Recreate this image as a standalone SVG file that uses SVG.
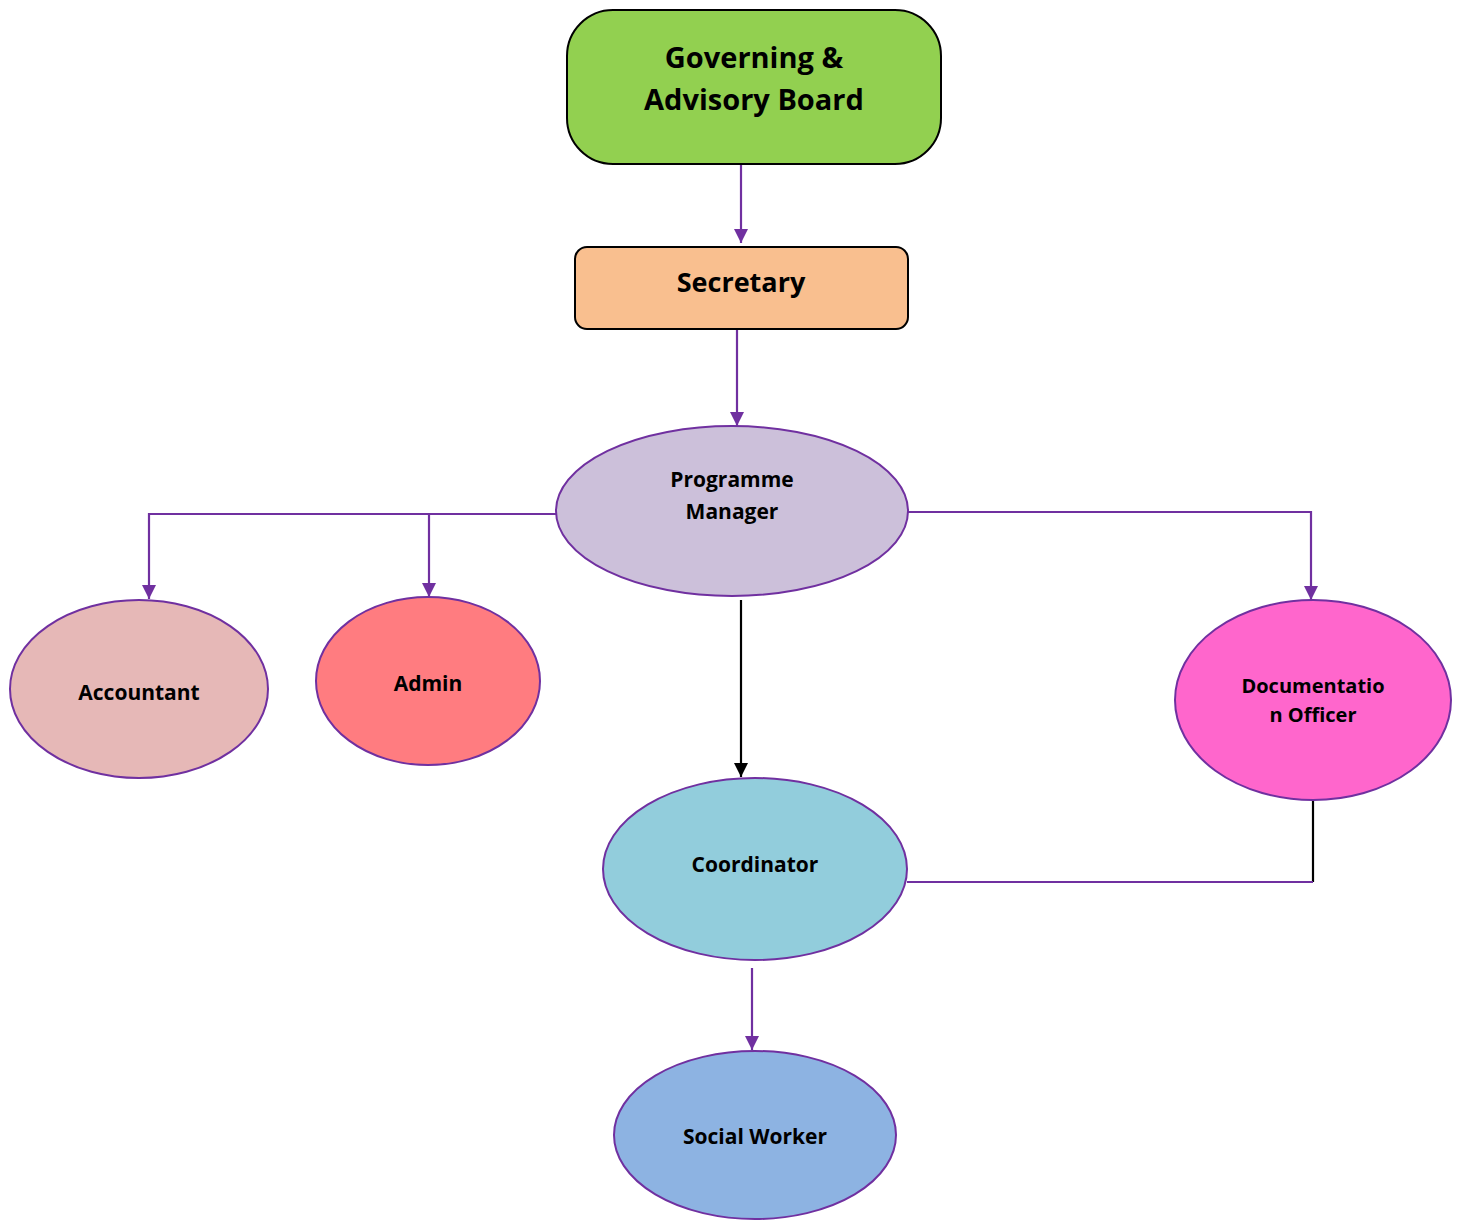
<svg xmlns="http://www.w3.org/2000/svg" width="1460" height="1220" viewBox="0 0 1460 1220">
<style>
text{font-family:"Open Sans","Noto Sans","Liberation Sans",sans-serif;font-weight:bold;fill:#000;text-anchor:middle}
.oval{stroke:#7030A0;stroke-width:2}
.box{stroke:#000;stroke-width:2}
.c{fill:none;stroke:#7030A0;stroke-width:2.2}
.k{fill:none;stroke:#000;stroke-width:2.2}
</style>
<defs>
<marker id="ap" viewBox="0 0 10 10" refX="10" refY="5" markerWidth="14" markerHeight="14" markerUnits="userSpaceOnUse" orient="auto">
<path d="M0,0 L10,5 L0,10 z" fill="#7030A0"/>
</marker>
<marker id="ak" viewBox="0 0 10 10" refX="10" refY="5" markerWidth="14" markerHeight="14" markerUnits="userSpaceOnUse" orient="auto">
<path d="M0,0 L10,5 L0,10 z" fill="#000"/>
</marker>
</defs>
<g id="connectors">
<line class="c" x1="741" y1="165" x2="741" y2="243" marker-end="url(#ap)"/>
<line class="c" x1="737" y1="330" x2="737" y2="426" marker-end="url(#ap)"/>
<polyline class="c" points="557,514 149,514 149,599" marker-end="url(#ap)"/>
<line class="c" x1="429" y1="514" x2="429" y2="597" marker-end="url(#ap)"/>
<polyline class="c" points="904,512 1311,512 1311,600" marker-end="url(#ap)"/>
<line class="k" x1="741" y1="600" x2="741" y2="777" marker-end="url(#ak)"/>
<line class="k" x1="1313" y1="800" x2="1313" y2="882"/>
<line class="c" x1="1313" y1="882" x2="907" y2="882"/>
<line class="c" x1="752" y1="968" x2="752" y2="1050" marker-end="url(#ap)"/>
</g>
<g id="governing">
<rect class="box" x="567" y="10" width="374" height="154" rx="46" fill="#92D050"/>
<text x="754" y="68" font-size="29">Governing &amp;</text>
<text x="754" y="110" font-size="29">Advisory Board</text>
</g>
<g id="secretary">
<rect class="box" x="575" y="247" width="333" height="82" rx="12" fill="#F9BF8F"/>
<text x="741" y="292" font-size="27">Secretary</text>
</g>
<g id="programme-manager">
<ellipse class="oval" cx="732" cy="511" rx="176" ry="85" fill="#CCC0DA"/>
<text x="732" y="487" font-size="21">Programme</text>
<text x="732" y="519" font-size="21">Manager</text>
</g>
<g id="accountant">
<ellipse class="oval" cx="139" cy="689" rx="129" ry="89" fill="#E6B8B7"/>
<text x="139" y="700" font-size="21">Accountant</text>
</g>
<g id="admin">
<ellipse class="oval" cx="428" cy="681" rx="112" ry="84" fill="#FF7C80"/>
<text x="428" y="691" font-size="21">Admin</text>
</g>
<g id="documentation-officer">
<ellipse class="oval" cx="1313" cy="700" rx="138" ry="100" fill="#FF66CC"/>
<text x="1313" y="693" font-size="20">Documentatio</text>
<text x="1313" y="722" font-size="20">n Officer</text>
</g>
<g id="coordinator">
<ellipse class="oval" cx="755" cy="869" rx="152" ry="91" fill="#92CDDC"/>
<text x="755" y="872" font-size="21">Coordinator</text>
</g>
<g id="social-worker">
<ellipse class="oval" cx="755" cy="1135" rx="141" ry="84" fill="#8DB3E2"/>
<text x="755" y="1144" font-size="21">Social Worker</text>
</g>
</svg>
